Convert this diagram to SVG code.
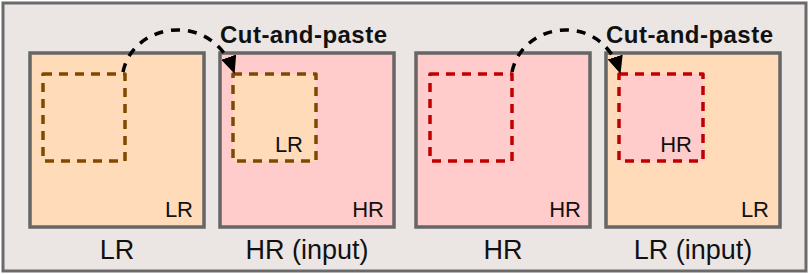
<svg xmlns="http://www.w3.org/2000/svg" width="812" height="274" viewBox="0 0 812 274">
<defs>
<style>
.frame{fill:#ebe6e4;stroke:#6a6a6a;stroke-width:3}
.box{stroke:#666;stroke-width:3.5}
.lr{fill:#ffdbb9}
.hr{fill:#ffcbcb}
.dlr{stroke:#7f4a00;stroke-width:3.5;stroke-dasharray:9 7;stroke-linejoin:round}
.dhr{stroke:#c00000;stroke-width:3.5;stroke-dasharray:9 7;stroke-linejoin:round}
.t{font-family:"Liberation Sans",Arial,sans-serif;fill:#111}
.s{font-size:22px}
.b{font-size:27px}
.c{font-size:24px;font-weight:bold}
.arr{fill:none;stroke:#000;stroke-width:3.5;stroke-dasharray:9 8}
</style>
<marker id="ah" viewBox="0 0 10 10" refX="9" refY="5" markerWidth="5" markerHeight="4.5" markerUnits="strokeWidth" orient="auto" preserveAspectRatio="none">
<path d="M0,0 L10,5 L0,10 z" fill="#000"/>
</marker>
</defs>
<rect class="frame" x="3" y="3" width="803" height="268"/>
<g id="n1">
<rect class="box lr" x="30" y="53" width="174" height="174"/>
<rect class="dlr" fill="none" x="43" y="74" width="82" height="87"/>
<text class="t s" x="193" y="217" text-anchor="end">LR</text>
<text class="t b" x="117" y="259" text-anchor="middle">LR</text>
</g>
<g id="n2">
<rect class="box hr" x="220" y="53" width="174" height="174"/>
<rect class="dlr lr" x="233" y="74" width="83" height="87"/>
<text class="t s" x="303" y="152" text-anchor="end">LR</text>
<text class="t s" x="384" y="217" text-anchor="end">HR</text>
<text class="t b" x="307" y="259" text-anchor="middle">HR (input)</text>
</g>
<g id="n3">
<rect class="box hr" x="416" y="53" width="174" height="174"/>
<rect class="dhr" fill="none" x="430" y="74" width="82" height="87"/>
<text class="t s" x="581" y="217" text-anchor="end">HR</text>
<text class="t b" x="503" y="259" text-anchor="middle">HR</text>
</g>
<g id="n4">
<rect class="box lr" x="606" y="53" width="174" height="174"/>
<rect class="dhr hr" x="619" y="74" width="84" height="87"/>
<text class="t s" x="692" y="152" text-anchor="end">HR</text>
<text class="t s" x="769" y="217" text-anchor="end">LR</text>
<text class="t b" x="693" y="259" text-anchor="middle">LR (input)</text>
</g>
<g id="connectors">
<path class="arr" d="M123,72 C133,22 212,10 234,72" marker-end="url(#ah)"/>
<path class="arr" d="M512,72 C522,22 600,10 620,72" marker-end="url(#ah)"/>
<text class="t c" x="220" y="43" textLength="167">Cut-and-paste</text>
<text class="t c" x="606" y="43" textLength="167">Cut-and-paste</text>
</g>
</svg>
